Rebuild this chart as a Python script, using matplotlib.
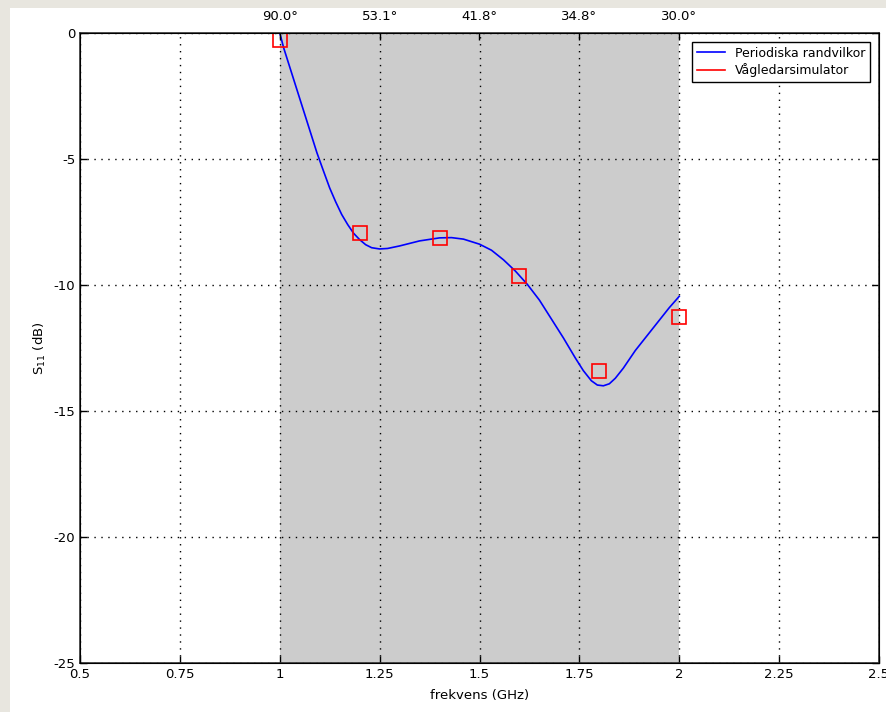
import matplotlib
matplotlib.use("Agg")
import matplotlib.pyplot as plt
from matplotlib.lines import Line2D
from matplotlib.patches import Rectangle

plt.rcParams['axes.unicode_minus'] = False

# S11 curve from periodic boundary model
freq_curve = [1.0, 1.01, 1.02, 1.033, 1.045, 1.06, 1.075, 1.093, 1.11, 1.125,
              1.14, 1.155, 1.17, 1.185, 1.2, 1.215, 1.23, 1.25, 1.27, 1.3,
              1.35, 1.4, 1.43, 1.46, 1.5, 1.53, 1.56, 1.59, 1.62, 1.65, 1.68,
              1.71, 1.74, 1.76, 1.78, 1.795, 1.81, 1.825, 1.84, 1.86, 1.89,
              1.92, 1.95, 1.975, 2.0]
s11_curve = [0.0, -0.6, -1.1, -1.75, -2.35, -3.1, -3.85, -4.75, -5.5, -6.15,
             -6.7, -7.2, -7.6, -7.95, -8.2, -8.4, -8.52, -8.57, -8.55, -8.45,
             -8.25, -8.13, -8.12, -8.18, -8.38, -8.62, -9.0, -9.45, -9.98,
             -10.6, -11.35, -12.1, -12.9, -13.4, -13.8, -13.97, -14.0, -13.92,
             -13.7, -13.3, -12.6, -12.0, -11.4, -10.9, -10.45]

# waveguide simulator points
freq_sim = [1.0, 1.2, 1.4, 1.6, 1.8, 2.0]
s11_sim = [-0.28, -7.95, -8.15, -9.65, -13.4, -11.27]

x_ticks = [0.5, 0.75, 1, 1.25, 1.5, 1.75, 2, 2.25, 2.5]
x_labels = ['0.5', '0.75', '1', '1.25', '1.5', '1.75', '2', '2.25', '2.5']
y_ticks = [0, -5, -10, -15, -20, -25]
angle_ticks = [1, 1.25, 1.5, 1.75, 2]
angle_labels = ['90.0°', '53.1°', '41.8°', '34.8°', '30.0°']

fig = plt.figure(figsize=(8.86, 7.12), dpi=100)
fig.patch.set_facecolor('white')
# beige window frame on left and top
fig.patches.append(Rectangle((0, 0), 10/886, 1, transform=fig.transFigure,
                             facecolor='#e8e6df', edgecolor='none', zorder=-1))
fig.patches.append(Rectangle((0, 1 - 8/712), 1, 8/712, transform=fig.transFigure,
                             facecolor='#e8e6df', edgecolor='none', zorder=-1))

ax = fig.add_axes([80/886, 49/712, 799/886, 630/712])
ax.axvspan(1, 2, color='#cccccc', zorder=0, lw=0)
ax.plot(freq_curve, s11_curve, color='blue', lw=1.2, zorder=3)
ax.plot(freq_sim, s11_sim, ls='none', marker='s', ms=9.5, mfc='none',
        mec='red', mew=1.2, zorder=4)

ax.set_xlim(0.5, 2.5)
ax.set_ylim(-25, 0)
ax.set_xticks(x_ticks)
ax.set_xticklabels(x_labels)
ax.set_yticks(y_ticks)
ax.tick_params(direction='in', labelsize=9.5, length=5, width=1,
               right=True, colors='black')
ax.grid(True, color='black', ls=(0, (1, 4)), lw=1)
for s in ax.spines.values():
    s.set_color('#333333')
    s.set_linewidth(1.2)

ax.set_xlabel('frekvens (GHz)', fontsize=9.5, labelpad=6)
ax.set_ylabel('S$_{11}$ (dB)', fontsize=9.5, labelpad=4)

top = ax.twiny()
top.set_xlim(0.5, 2.5)
top.set_xticks(angle_ticks)
top.set_xticklabels(angle_labels)
top.tick_params(direction='in', labelsize=9.5, length=5, width=1, pad=7)

handles = [Line2D([], [], color='blue', lw=1.2),
           Line2D([], [], color='red', lw=1.2)]
leg = ax.legend(handles, ['Periodiska randvilkor', 'Vågledarsimulator'],
                loc='upper right', fontsize=9, fancybox=False, framealpha=1,
                edgecolor='black', borderaxespad=0.7, handlelength=2.2,
                labelspacing=0.3)
leg.get_frame().set_linewidth(1)

fig.savefig('out.png', dpi=100)
